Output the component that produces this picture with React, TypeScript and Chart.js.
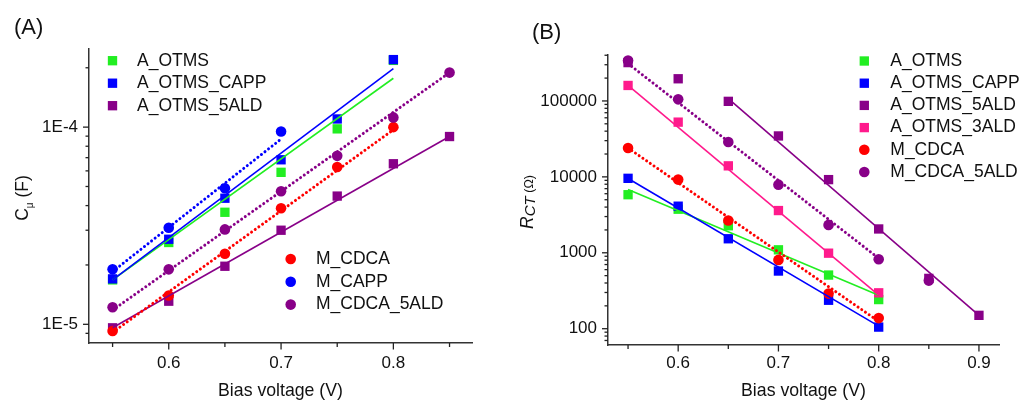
import React, { useEffect, useRef } from 'react';
import { Chart, registerables } from 'chart.js';

Chart.register(...registerables);

const FONT = "'Liberation Sans', Arial, Helvetica, sans-serif";

const GREEN = '#22ee22';
const BLUE = '#0000ff';
const PURPLE = '#880088';
const PINK = '#ff1a8c';
const RED = '#ff0000';

// ---------------- Panel A : C_mu (F) vs bias voltage ----------------
const voltA = [0.55, 0.6, 0.65, 0.7, 0.75, 0.8, 0.85];
const cA_OTMS = [1.68e-5, 2.6e-5, 3.7e-5, 5.9e-5, 9.8e-5, 2.18e-4];
const cA_OTMS_CAPP = [1.7e-5, 2.7e-5, 4.36e-5, 6.83e-5, 1.1e-4, 2.2e-4];
const cA_OTMS_5ALD = [9.6e-6, 1.31e-5, 1.97e-5, 3.0e-5, 4.47e-5, 6.52e-5, 8.96e-5];
const cM_CDCA = [9.25e-6, 1.4e-5, 2.28e-5, 3.88e-5, 6.28e-5, 1.0e-4];
const cM_CAPP = [1.9e-5, 3.09e-5, 4.9e-5, 9.5e-5];
const cM_CDCA_5ALD = [1.22e-5, 1.9e-5, 3.03e-5, 4.73e-5, 7.15e-5, 1.12e-4, 1.89e-4];

// fitted lines (end points)
const fitA_OTMS_V = [0.55, 0.8];
const fitA_OTMS_C = [1.68e-5, 1.77e-4];
const fitA_OTMS_CAPP_V = [0.55, 0.8];
const fitA_OTMS_CAPP_C = [1.68e-5, 1.98e-4];
const fitA_OTMS_5ALD_V = [0.55, 0.85];
const fitA_OTMS_5ALD_C = [9.6e-6, 8.96e-5];
const fitM_CDCA_V = [0.55, 0.8];
const fitM_CDCA_C = [9.1e-6, 9.7e-5];
const fitM_CAPP_V = [0.55, 0.7];
const fitM_CAPP_C = [1.85e-5, 8.7e-5];
const fitM_CDCA_5ALD_V = [0.55, 0.85];
const fitM_CDCA_5ALD_C = [1.18e-5, 1.89e-4];

// ---------------- Panel B : R_CT (Ohm) vs bias voltage ----------------
const voltB = [0.55, 0.6, 0.65, 0.7, 0.75, 0.8, 0.85, 0.9];
const rA_OTMS = [5820, 3750, 2270, 1094, 509, 242];
const rA_OTMS_CAPP = [9570, 4110, 1530, 575, 237, 105];
const rA_OTMS_5ALD = [3.2e5, 1.96e5, 98800, 34600, 9200, 2060, 460, 150];
const rA_OTMS_3ALD = [1.6e5, 52600, 13970, 3600, 988, 297];
const rM_CDCA = [24000, 9200, 2660, 806, 290, 138];
const rM_CDCA_5ALD = [3.4e5, 1.05e5, 28800, 7900, 2330, 822, 430];

const fitRA_OTMS_V = [0.55, 0.8];
const fitRA_OTMS_R = [6840, 276];
const fitRA_OTMS_CAPP_V = [0.55, 0.8];
const fitRA_OTMS_CAPP_R = [9500, 108];
const fitRA_OTMS_5ALD_V = [0.65, 0.9];
const fitRA_OTMS_5ALD_R = [1.07e5, 150];
const fitRA_OTMS_3ALD_V = [0.55, 0.8];
const fitRA_OTMS_3ALD_R = [1.6e5, 276];
const fitRM_CDCA_V = [0.55, 0.8];
const fitRM_CDCA_R = [24000, 125];
const fitRM_CDCA_5ALD_V = [0.55, 0.8];
const fitRM_CDCA_5ALD_R = [3.1e5, 847];

type Series = {
  name: string;
  color: string;
  shape: 'rect' | 'circle';
  xs: number[];
  ys: number[];
  fx: number[];
  fy: number[];
  dotted: boolean;
};

const seriesA: Series[] = [
  { name: 'A_OTMS', color: GREEN, shape: 'rect', xs: voltA, ys: cA_OTMS, fx: fitA_OTMS_V, fy: fitA_OTMS_C, dotted: false },
  { name: 'A_OTMS_CAPP', color: BLUE, shape: 'rect', xs: voltA, ys: cA_OTMS_CAPP, fx: fitA_OTMS_CAPP_V, fy: fitA_OTMS_CAPP_C, dotted: false },
  { name: 'A_OTMS_5ALD', color: PURPLE, shape: 'rect', xs: voltA, ys: cA_OTMS_5ALD, fx: fitA_OTMS_5ALD_V, fy: fitA_OTMS_5ALD_C, dotted: false },
  { name: 'M_CDCA', color: RED, shape: 'circle', xs: voltA, ys: cM_CDCA, fx: fitM_CDCA_V, fy: fitM_CDCA_C, dotted: true },
  { name: 'M_CAPP', color: BLUE, shape: 'circle', xs: voltA, ys: cM_CAPP, fx: fitM_CAPP_V, fy: fitM_CAPP_C, dotted: true },
  { name: 'M_CDCA_5ALD', color: PURPLE, shape: 'circle', xs: voltA, ys: cM_CDCA_5ALD, fx: fitM_CDCA_5ALD_V, fy: fitM_CDCA_5ALD_C, dotted: true },
];

const seriesB: Series[] = [
  { name: 'A_OTMS', color: GREEN, shape: 'rect', xs: voltB, ys: rA_OTMS, fx: fitRA_OTMS_V, fy: fitRA_OTMS_R, dotted: false },
  { name: 'A_OTMS_CAPP', color: BLUE, shape: 'rect', xs: voltB, ys: rA_OTMS_CAPP, fx: fitRA_OTMS_CAPP_V, fy: fitRA_OTMS_CAPP_R, dotted: false },
  { name: 'A_OTMS_5ALD', color: PURPLE, shape: 'rect', xs: voltB, ys: rA_OTMS_5ALD, fx: fitRA_OTMS_5ALD_V, fy: fitRA_OTMS_5ALD_R, dotted: false },
  { name: 'A_OTMS_3ALD', color: PINK, shape: 'rect', xs: voltB, ys: rA_OTMS_3ALD, fx: fitRA_OTMS_3ALD_V, fy: fitRA_OTMS_3ALD_R, dotted: false },
  { name: 'M_CDCA', color: RED, shape: 'circle', xs: voltB, ys: rM_CDCA, fx: fitRM_CDCA_V, fy: fitRM_CDCA_R, dotted: true },
  { name: 'M_CDCA_5ALD', color: PURPLE, shape: 'circle', xs: voltB, ys: rM_CDCA_5ALD, fx: fitRM_CDCA_5ALD_V, fy: fitRM_CDCA_5ALD_R, dotted: true },
];

const RECT_R = 6.6;
const CIRC_R = 5.3;

function buildDatasets(series: Series[]) {
  const markers = series.map((s, i) => ({
    label: s.name,
    data: s.ys.map((y, k) => ({ x: s.xs[k], y })),
    showLine: false,
    pointStyle: s.shape,
    pointRadius: s.shape === 'rect' ? RECT_R : CIRC_R,
    pointBorderWidth: 0,
    backgroundColor: s.color,
    borderColor: s.color,
    order: 100 - i,
  }));
  const fits = series.map((s, i) => ({
    label: s.name + ' fit',
    data: s.fx.map((x, k) => ({ x, y: s.fy[k] })),
    showLine: true,
    pointRadius: 0,
    borderColor: s.color,
    backgroundColor: s.color,
    borderWidth: s.dotted ? 3 : 1.6,
    borderDash: s.dotted ? [0.01, 4.5] : [],
    borderCapStyle: s.dotted ? 'round' : 'butt',
    tension: 0,
    fill: false,
    order: 10 - i,
  }));
  return [...markers, ...fits];
}

const decorPlugin = {
  id: 'decor',
  afterDraw(chart: any, _args: any, opts: any) {
    const ctx = chart.ctx as CanvasRenderingContext2D;
    const xs = chart.scales.x;
    const ys = chart.scales.y;
    ctx.save();
    ctx.strokeStyle = '#222';
    ctx.lineWidth = 1.3;
    // x tick marks
    xs.ticks.forEach((t: any) => {
      const v = t.value;
      const major = Math.abs(v * 10 - Math.round(v * 10)) < 1e-6;
      const px = xs.getPixelForValue(v);
      const len = major ? 6.5 : 4;
      ctx.beginPath();
      ctx.moveTo(px, xs.top);
      ctx.lineTo(px, xs.top + len);
      ctx.stroke();
    });
    // y (log) tick marks
    ys.ticks.forEach((t: any) => {
      const v = t.value;
      const e = Math.floor(Math.log10(v) + 1e-9);
      const m = v / Math.pow(10, e);
      if (Math.abs(m - Math.round(m)) > 1e-6) return;
      const major = Math.round(m) === 1 || Math.round(m) === 10;
      const py = ys.getPixelForValue(v);
      const len = major ? 6 : 3.5;
      ctx.beginPath();
      ctx.moveTo(ys.right - len, py);
      ctx.lineTo(ys.right, py);
      ctx.stroke();
    });
    // legends
    ctx.font = `17.5px ${FONT}`;
    ctx.textBaseline = 'middle';
    ctx.textAlign = 'left';
    (opts.groups || []).forEach((g: any) => {
      g.items.forEach((di: number, k: number) => {
        const ds = chart.data.datasets[di];
        const y = g.y + k * g.dy;
        ctx.fillStyle = ds.backgroundColor;
        if (ds.pointStyle === 'rect') {
          const h = RECT_R * Math.SQRT1_2;
          ctx.fillRect(g.x - h, y - h, 2 * h, 2 * h);
        } else {
          ctx.beginPath();
          ctx.arc(g.x, y, CIRC_R, 0, Math.PI * 2);
          ctx.fill();
        }
        ctx.fillStyle = '#111';
        ctx.fillText(ds.label, g.tx, y);
      });
    });
    ctx.restore();
  },
};

type PanelCfg = {
  series: Series[];
  xMin: number;
  xMax: number;
  yMin: number;
  yMax: number;
  padTop: number;
  padRight: number;
  yWidth: number;
  xHeight: number;
  xLabelPad: number;
  yLabel: (v: number) => string;
  groups: any[];
};

function makeChart(canvas: HTMLCanvasElement, p: PanelCfg) {
  const tickFont = { family: FONT, size: 17 };
  return new Chart(canvas, {
    type: 'scatter',
    data: { datasets: buildDatasets(p.series) as any },
    plugins: [decorPlugin as any],
    options: {
      responsive: false,
      animation: false,
      events: [],
      layout: { padding: { left: 0, top: p.padTop, right: p.padRight, bottom: 0 } },
      plugins: {
        legend: { display: false },
        tooltip: { enabled: false },
        decor: { groups: p.groups },
      } as any,
      scales: {
        x: {
          type: 'linear',
          position: 'bottom',
          min: p.xMin,
          max: p.xMax,
          afterFit: (s: any) => {
            s.height = p.xHeight;
          },
          grid: { display: true, drawOnChartArea: false, drawTicks: true, tickLength: 6, color: 'transparent', tickColor: 'transparent' },
          border: { display: true, color: '#333', width: 1.5 },
          ticks: {
            stepSize: 0.05,
            includeBounds: false,
            autoSkip: false,
            maxRotation: 0,
            minRotation: 0,
            padding: p.xLabelPad,
            font: tickFont,
            color: '#111',
            callback: (v: any) => {
              const n = Number(v);
              return Math.abs(n * 10 - Math.round(n * 10)) < 1e-6 ? n.toFixed(1) : '';
            },
          },
          title: {
            display: true,
            text: 'Bias voltage (V)',
            font: { family: FONT, size: 17.7 },
            color: '#111',
            padding: { top: 0, bottom: 1 },
          },
        },
        y: {
          type: 'logarithmic',
          position: 'left',
          min: p.yMin,
          max: p.yMax,
          afterFit: (s: any) => {
            s.width = p.yWidth;
          },
          grid: { display: true, drawOnChartArea: false, drawTicks: true, tickLength: 6, color: 'transparent', tickColor: 'transparent' },
          border: { display: true, color: '#333', width: 1.5 },
          ticks: {
            autoSkip: false,
            padding: 5,
            font: tickFont,
            color: '#111',
            callback: (v: any) => {
              const n = Number(v);
              const l = Math.log10(n);
              if (Math.abs(l - Math.round(l)) > 1e-6) return '';
              return p.yLabel(n);
            },
          },
        },
      },
    } as any,
  });
}

const panelA: PanelCfg = {
  series: seriesA,
  xMin: 0.529,
  xMax: 0.87,
  yMin: 8.04e-6,
  yMax: 2.49e-4,
  padTop: 49,
  padRight: 40,
  yWidth: 89,
  xHeight: 60,
  xLabelPad: 4,
  yLabel: (n) => `1E${Math.round(Math.log10(n))}`,
  groups: [
    { x: 112.5, tx: 137, y: 60.7, dy: 22.5, items: [0, 1, 2] },
    { x: 290.7, tx: 316, y: 259, dy: 22.8, items: [3, 4, 5] },
  ],
};

const panelB: PanelCfg = {
  series: seriesB,
  xMin: 0.53,
  xMax: 0.92,
  yMin: 61,
  yMax: 4.03e5,
  padTop: 55,
  padRight: 25,
  yWidth: 96,
  xHeight: 58,
  xLabelPad: 2,
  yLabel: (n) => String(Math.round(n)),
  groups: [{ x: 352.3, tx: 378.3, y: 61, dy: 22.2, items: [0, 1, 2, 3, 4, 5] }],
};

const textBase: React.CSSProperties = {
  position: 'absolute',
  fontFamily: FONT,
  color: '#111',
  lineHeight: 1,
  whiteSpace: 'nowrap',
};

export default function App() {
  const refA = useRef<HTMLCanvasElement>(null);
  const refB = useRef<HTMLCanvasElement>(null);

  useEffect(() => {
    const a = makeChart(refA.current!, panelA);
    const b = makeChart(refB.current!, panelB);
    return () => {
      a.destroy();
      b.destroy();
    };
  }, []);

  return (
    <div style={{ position: 'absolute', left: 0, top: 0, width: 1024, height: 403, background: '#fff', overflow: 'hidden' }}>
      <canvas ref={refA} width={512} height={403} style={{ position: 'absolute', left: 0, top: 0, width: 512, height: 403 }} />
      <canvas ref={refB} width={512} height={403} style={{ position: 'absolute', left: 512, top: 0, width: 512, height: 403 }} />
      <div style={{ ...textBase, left: 14, top: 16.4, fontSize: 22 }}>(A)</div>
      <div style={{ ...textBase, left: 532, top: 21, fontSize: 22 }}>(B)</div>
      <div
        style={{
          ...textBase,
          left: 22.5,
          top: 198,
          fontSize: 17.5,
          transform: 'translate(-50%, -50%) rotate(-90deg)',
        }}
      >
        C<span style={{ fontSize: 10, position: 'relative', top: 5 }}>μ</span> (F)
      </div>
      <div
        style={{
          ...textBase,
          left: 527.5,
          top: 201.5,
          fontSize: 17.5,
          transform: 'translate(-50%, -50%) rotate(-90deg)',
        }}
      >
        <span style={{ fontStyle: 'italic' }}>R</span>
        <span style={{ fontStyle: 'italic', fontSize: 15, position: 'relative', top: 1.5 }}>CT</span>
        <span style={{ fontSize: 12.5 }}> (Ω)</span>
      </div>
    </div>
  );
}
